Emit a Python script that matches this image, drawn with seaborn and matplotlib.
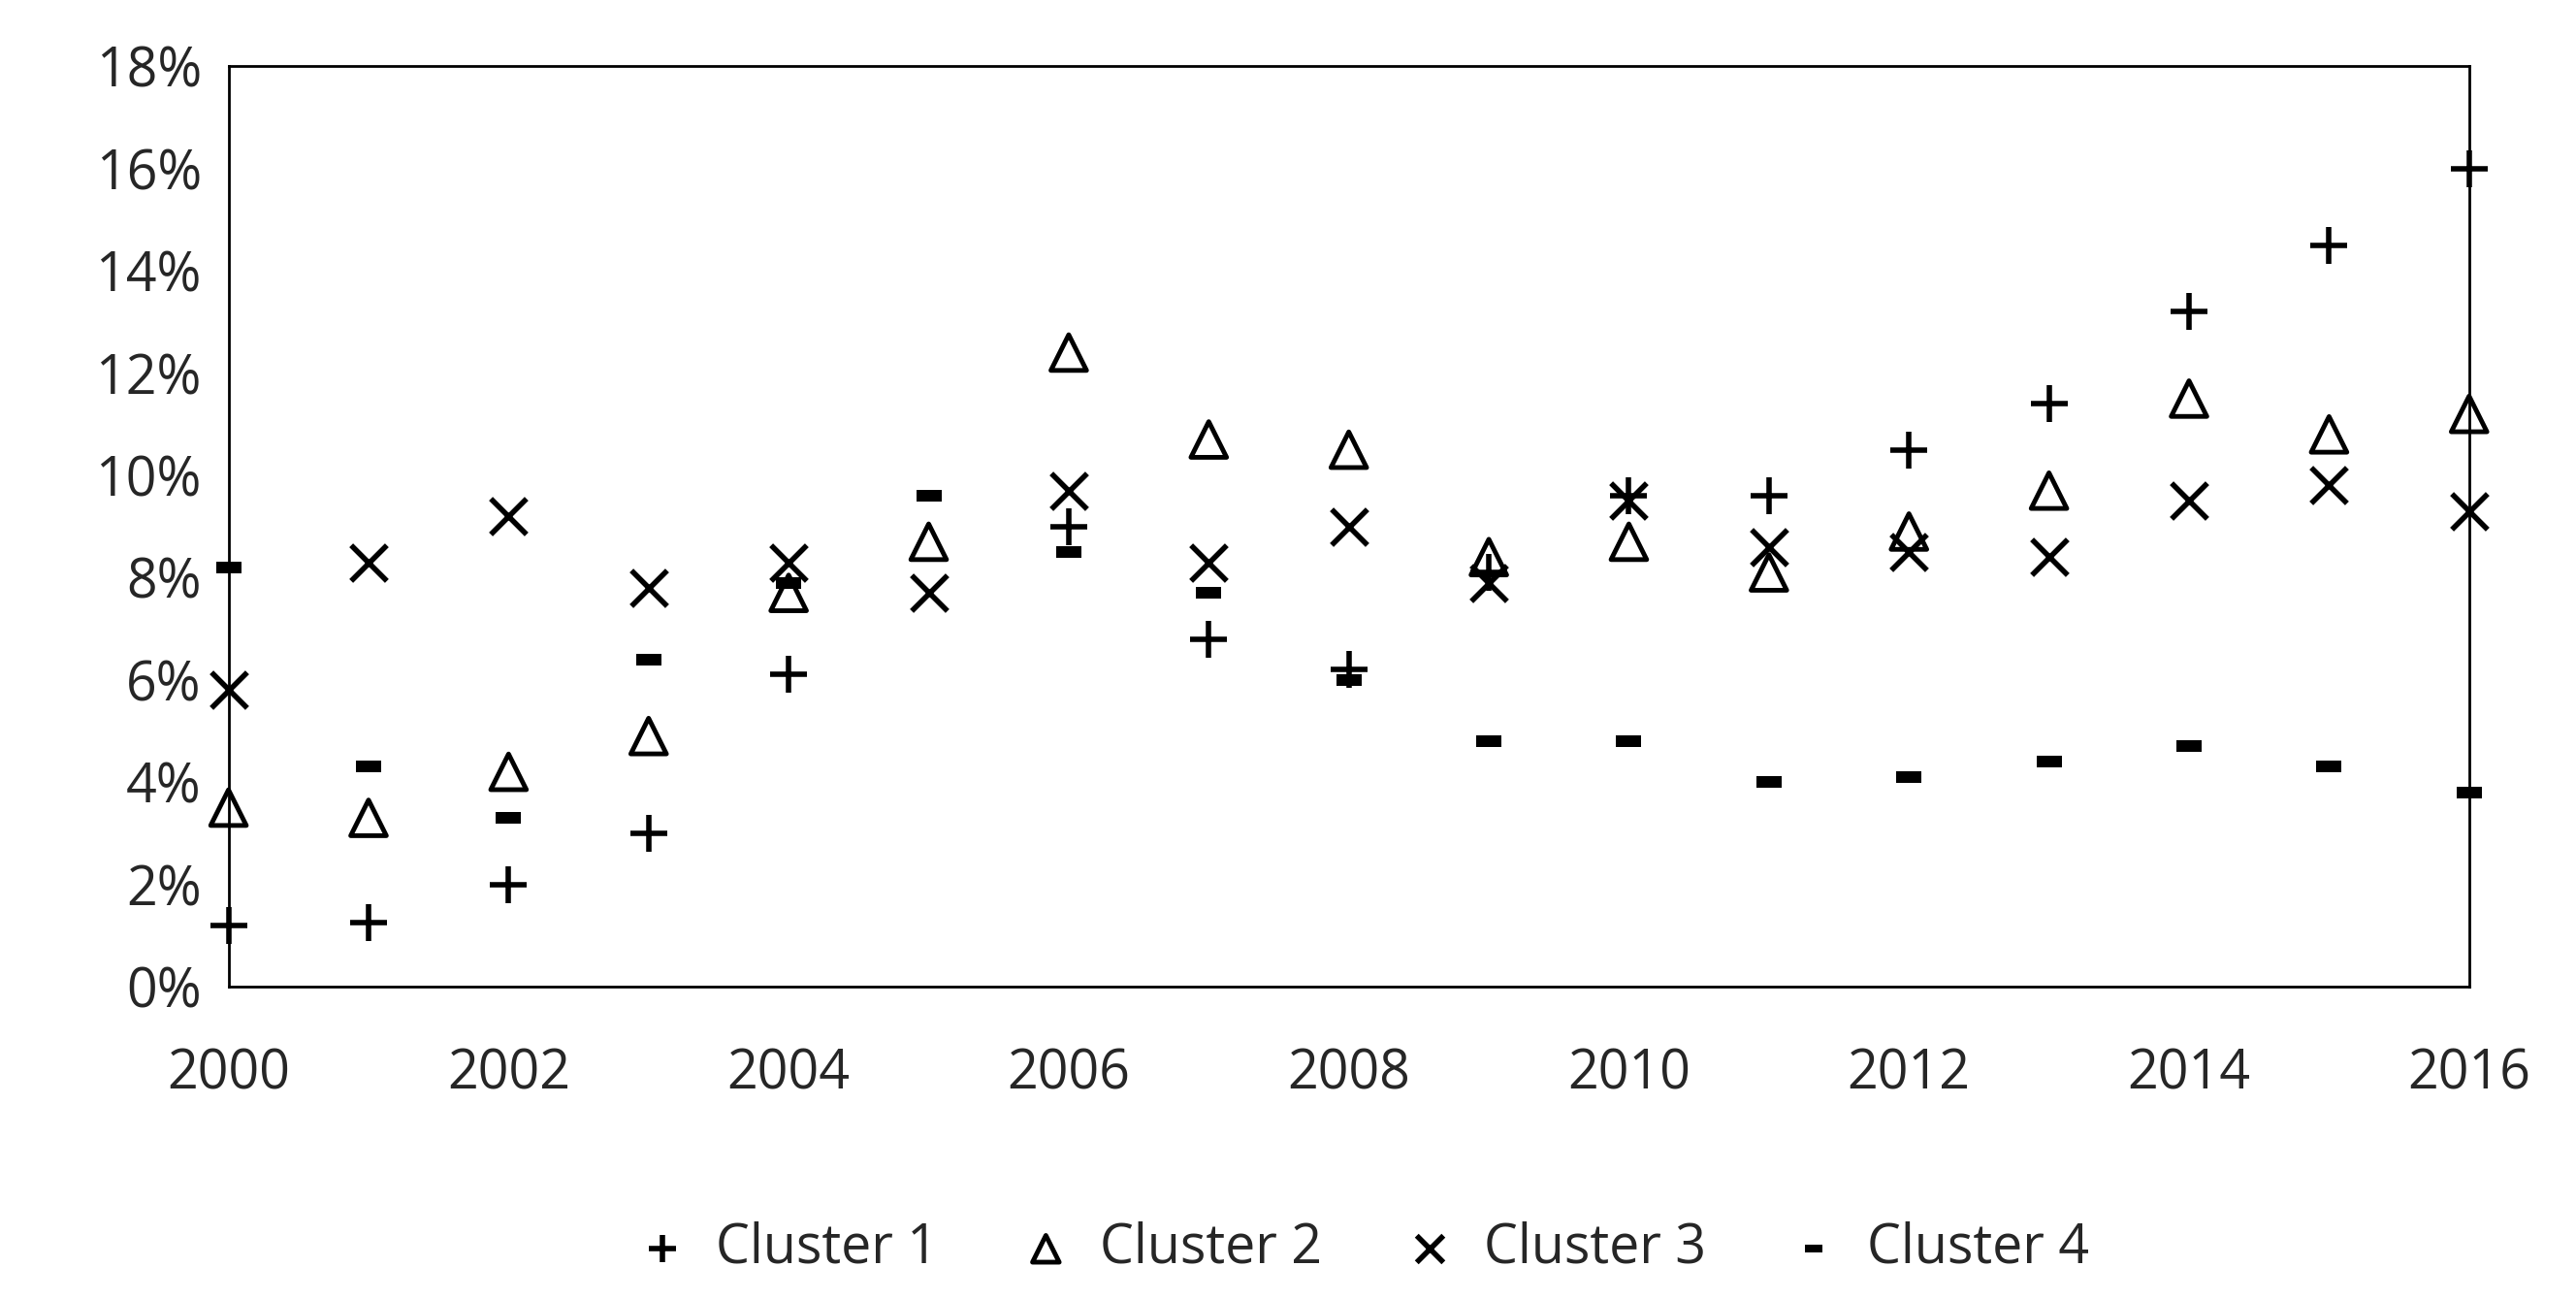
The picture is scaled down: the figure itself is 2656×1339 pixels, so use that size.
import matplotlib
matplotlib.use("Agg")
import matplotlib.pyplot as plt
import seaborn as sns
import pandas as pd
from matplotlib.ticker import PercentFormatter

years = list(range(2000, 2017))
cluster1 = [1.2, 1.25, 2.0, 3.0, 6.1, None, 9.0, 6.8, 6.2, 8.1, 9.6, 9.6, 10.5, 11.4, 13.2, 14.5, 16.0]
cluster2 = [3.5, 3.3, 4.2, 4.9, 7.7, 8.7, 12.4, 10.7, 10.5, 8.4, 8.7, 8.1, 8.9, 9.7, 11.5, 10.8, 11.2]
cluster3 = [5.8, 8.3, 9.2, 7.8, 8.3, 7.7, 9.7, 8.3, 9.0, 7.9, 9.5, 8.6, 8.5, 8.4, 9.5, 9.8, 9.3]
cluster4 = [8.2, 4.3, 3.3, 6.4, 7.9, 9.6, 8.5, 7.7, 6.0, 4.8, 4.8, 4.0, 4.1, 4.4, 4.7, 4.3, 3.8]

df = pd.DataFrame({"year": years, "Cluster 1": cluster1, "Cluster 2": cluster2,
                   "Cluster 3": cluster3, "Cluster 4": cluster4})
long = df.melt(id_vars="year", var_name="cluster", value_name="pct").dropna()

sns.set_style("white")
plt.rcParams["font.family"] = ["Open Sans", "DejaVu Sans"]

fig = plt.figure(figsize=(26.56, 13.39), dpi=100)
ax = fig.add_axes([0.0887, 0.2405, 0.8698, 0.7085])

dash = [(-1, -0.45), (1, -0.45), (1, 0.45), (-1, 0.45)]
markers = {"Cluster 1": "+", "Cluster 2": "^", "Cluster 3": "x", "Cluster 4": dash}
sizes = {"Cluster 1": 750, "Cluster 2": 700, "Cluster 3": 700, "Cluster 4": 330}
for name, m in markers.items():
    sub = long[long.cluster == name]
    kw = dict(facecolor="none", edgecolor="black", linewidth=3.5) if name == "Cluster 2" else \
        dict(color="black", linewidth=4 if name != "Cluster 4" else 0)
    sns.scatterplot(data=sub, x="year", y="pct", marker=m, s=sizes[name], ax=ax,
                    label=name, clip_on=False, zorder=5, **kw)

ax.set_xlim(2000, 2016)
ax.set_ylim(0, 18)
ax.set_xticks(range(2000, 2017, 2))
ax.set_yticks(range(0, 19, 2))
ax.yaxis.set_major_formatter(PercentFormatter(decimals=0))
ax.tick_params(labelsize=40, length=0)
ax.tick_params(axis="x", pad=45)
ax.tick_params(axis="y", pad=20)
ax.set_xlabel("")
ax.set_ylabel("")
for s in ax.spines.values():
    s.set_color("black")
    s.set_linewidth(2)

ax.legend(loc="center", bbox_to_anchor=(0.5, -0.285), ncol=4, frameon=False,
          fontsize=40, handletextpad=0.0, columnspacing=1.0, markerscale=0.75)
fig.savefig("out.png", dpi=100)
